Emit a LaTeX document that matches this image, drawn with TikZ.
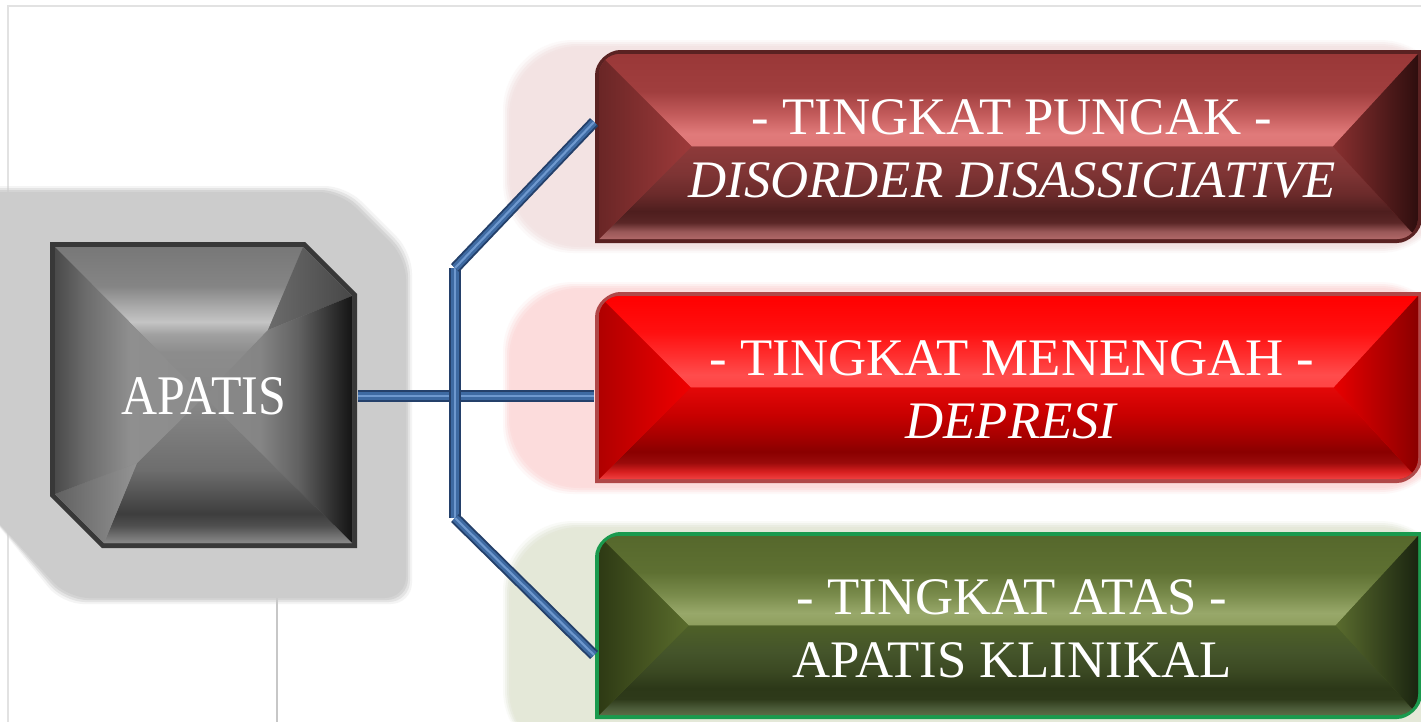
\documentclass[tikz,border=0pt]{standalone}
\usepackage{fontspec}
\setmainfont{Liberation Serif}
\usetikzlibrary{calc}

% ---------- colours ----------
\definecolor{frameLine}{HTML}{E2E2E2}
\definecolor{shadowGray}{HTML}{CCCCCC}
\definecolor{glowP}{HTML}{F3E3E3}
\definecolor{glowM}{HTML}{FCDCDC}
\definecolor{glowG}{HTML}{E4E8D8}
\definecolor{tubeEdge}{HTML}{24406A}
\definecolor{tubeMid}{HTML}{3E6AA2}
\definecolor{tubeHi}{HTML}{6E98CE}
\definecolor{aEdge}{HTML}{383838}

% dark red box
\definecolor{pEdge}{HTML}{5A2222}
\definecolor{pT25}{HTML}{DE7676}\definecolor{pT32}{HTML}{E07A7A}\definecolor{pT42}{HTML}{C45C5C}
\definecolor{pT55}{HTML}{A03E3E}\definecolor{pT75}{HTML}{9A3838}
\definecolor{pB25}{HTML}{B06868}\definecolor{pB29}{HTML}{9A5858}\definecolor{pB34}{HTML}{5A2626}
\definecolor{pB40}{HTML}{4E1E1E}\definecolor{pB49}{HTML}{6A2A2A}\definecolor{pB60}{HTML}{7E3434}
\definecolor{pB75}{HTML}{8E3A3A}
\definecolor{pL1}{HTML}{6A2626}\definecolor{pL2}{HTML}{9E3A3A}
\definecolor{pR1}{HTML}{8A3030}\definecolor{pR2}{HTML}{2E0E0E}

% bright red box
\definecolor{mEdge}{HTML}{B04848}
\definecolor{mT25}{HTML}{FF4444}\definecolor{mT32}{HTML}{FF4C4C}\definecolor{mT42}{HTML}{FF3030}
\definecolor{mT55}{HTML}{FF1010}\definecolor{mT75}{HTML}{FF0000}
\definecolor{mB25}{HTML}{F04040}\definecolor{mB29}{HTML}{D82020}\definecolor{mB34}{HTML}{9A0A0A}
\definecolor{mB40}{HTML}{8A0000}\definecolor{mB49}{HTML}{A80000}\definecolor{mB60}{HTML}{C80000}
\definecolor{mB75}{HTML}{E40808}
\definecolor{mL1}{HTML}{B00000}\definecolor{mL2}{HTML}{F00000}
\definecolor{mR1}{HTML}{E80000}\definecolor{mR2}{HTML}{8A0000}

% olive box
\definecolor{gEdge}{HTML}{1A9A4E}
\definecolor{gT25}{HTML}{8E9E5E}\definecolor{gT32}{HTML}{98A86A}\definecolor{gT42}{HTML}{7A8C4C}
\definecolor{gT55}{HTML}{5E7032}\definecolor{gT75}{HTML}{56682C}
\definecolor{gB25}{HTML}{5C6C46}\definecolor{gB29}{HTML}{4A5A38}\definecolor{gB34}{HTML}{2E3A1A}
\definecolor{gB40}{HTML}{2C3818}\definecolor{gB49}{HTML}{3A4822}\definecolor{gB60}{HTML}{44542A}
\definecolor{gB75}{HTML}{4E6028}
\definecolor{gL1}{HTML}{2E3A14}\definecolor{gL2}{HTML}{5A6C2C}
\definecolor{gR1}{HTML}{5A6C2E}\definecolor{gR2}{HTML}{1A2410}

% ---------- shadings ----------
\newcommand\mkshades[1]{%
  \pgfdeclareverticalshading{#1Top}{100bp}{color(0bp)=(#1T25); color(25bp)=(#1T25);
    color(32bp)=(#1T32); color(42bp)=(#1T42); color(55bp)=(#1T55); color(75bp)=(#1T75);
    color(100bp)=(#1T75)}%
  \pgfdeclareverticalshading{#1Bot}{100bp}{color(0bp)=(#1B25); color(25bp)=(#1B25);
    color(29bp)=(#1B29); color(34bp)=(#1B34); color(40bp)=(#1B40); color(49bp)=(#1B49);
    color(60bp)=(#1B60); color(75bp)=(#1B75); color(100bp)=(#1B75)}}
\mkshades{p}\mkshades{m}\mkshades{g}

\pgfdeclareverticalshading{aTop}{100bp}{color(0bp)=(black!47); color(25bp)=(black!47);
  color(40bp)=(black!45); color(46bp)=(black!37); color(50bp)=(black!23); color(54bp)=(black!31);
  color(62bp)=(black!48); color(75bp)=(black!53); color(100bp)=(black!53)}
\pgfdeclareverticalshading{aBot}{100bp}{color(0bp)=(black!46); color(25bp)=(black!46);
  color(31bp)=(black!69); color(35bp)=(black!76); color(50bp)=(black!57); color(75bp)=(black!46);
  color(100bp)=(black!46)}
\pgfdeclarehorizontalshading{aRight}{100bp}{color(0bp)=(black!46); color(25bp)=(black!46);
  color(44bp)=(black!48); color(57bp)=(black!62); color(70bp)=(black!84); color(75bp)=(black!92);
  color(100bp)=(black!92)}
\pgfdeclarehorizontalshading{aLeft}{100bp}{color(0bp)=(black!71); color(25bp)=(black!71);
  color(35bp)=(black!58); color(50bp)=(black!44); color(75bp)=(black!45); color(100bp)=(black!45)}

% beveled glossy box: #1 top edge, #2 bottom edge, #3 palette prefix
\newcommand\glossbox[3]{%
  \pgfmathsetmacro\gya{#1+4}%
  \pgfmathsetmacro\gyb{#2-4}%
  \pgfmathsetmacro\gym{(#1+#2)/2}%
  \pgfmathsetmacro\gax{599+\gym-\gya}%
  \pgfmathsetmacro\gbx{1418-0.92*(\gym-\gya)}%
  \fill[#3Edge] (595,#2) -- (595,#1+25) .. controls (595,#1+11.2) and (608.8,#1) .. (620,#1)
    -- (1422,#1) -- (1422,#2-25) .. controls (1422,#2-11.2) and (1408.2,#2) .. (1397,#2) -- cycle;
  \begin{scope}
    \clip (599,\gyb) -- (599,\gya+21) .. controls (599,\gya+9.4) and (608.4,\gya) .. (620,\gya)
      -- (1418,\gya) -- (1418,\gyb-21) .. controls (1418,\gyb-9.4) and (1408.6,\gyb) .. (1397,\gyb) -- cycle;
    \fill[#3B75] (590,\gya) rectangle (1430,\gyb);
    \shade[shading=#3Top] (599,\gya) -- (1418,\gya) -- (\gbx,\gym) -- (\gax,\gym) -- cycle;
    \shade[shading=#3Bot] (\gax,\gym) -- (\gbx,\gym) -- (1418,\gyb) -- (599,\gyb) -- cycle;
    \shade[left color=#3L1, right color=#3L2] (599,\gya) -- (\gax,\gym) -- (599,\gyb) -- cycle;
    \shade[left color=#3R1, right color=#3R2] (1418,\gya) -- (\gbx,\gym) -- (1418,\gyb) -- cycle;
  \end{scope}}

% a three-layer pipe along a path
\newcommand\tube[1]{\draw[tubeA] #1; \draw[tubeB] #1; \draw[tubeC] #1;}

\begin{document}
\begin{tikzpicture}[x=0.01cm, y=-0.01cm,
  txt/.style={text=white, align=center, inner sep=0pt, font={\fontsize{15}{18}\selectfont}},
  tubeA/.style={draw=tubeEdge, line width=3.2pt},
  tubeB/.style={draw=tubeMid, line width=2.1pt},
  tubeC/.style={draw=tubeHi, line width=0.6pt},
  glow/.style={rounded corners=20}]
\useasboundingbox (0,0) rectangle (1421,721);
\fill[white] (0,0) rectangle (1421,721);

% thin guide lines
\draw[frameLine, line width=0.6pt] (8,730) -- (8,6) -- (1430,6);
\draw[black!40, line width=0.5pt] (0,302) -- (50,302);
\draw[black!22, line width=0.6pt] (277,548) -- (277,730);

% soft glows behind the three boxes
\foreach \i/\o in {0/0.2, 2/0.35, 4/0.55, 6/0.8, 8/1} {
  \fill[glowP, opacity=\o, glow] (503+\i,40+\i) rectangle (1450,253-\i);
  \fill[glowM, opacity=\o, glow] (503+\i,282+\i) rectangle (1450,494-\i);
  \fill[glowG, opacity=\o, glow] (503+\i,521+\i) rectangle (1450,760);
}

% drop shadow of the source block
\foreach \i/\o in {0/0.2, 2/0.4, 4/0.65, 6/1} {
  \fill[shadowGray, opacity=\o, rounded corners=6]
    (-20,186+\i) -- (346-\i,186+\i) -- (412-\i,252+\i) -- (412-\i,604-\i) -- (62+\i,604-\i) -- (-20,503) -- cycle;
}

% source block
\fill[aEdge] (50,242) -- (305,242) -- (357,294) -- (357,548) -- (102,548) -- (50,496) -- cycle;
\coordinate (C) at (204,397);
\coordinate (P1) at (268,330);
\coordinate (P2) at (137,463);
\fill[black!47] (55,247) -- (303,247) -- (352,296) -- (352,543) -- (104,543) -- (55,494) -- cycle;
\shade[shading=aTop] (55,247) -- (303,247) -- (P1) -- (C) -- cycle;
\shade[left color=black!58, right color=black!72] (303,247) -- (352,296) -- (P1) -- cycle;
\shade[shading=aRight] (352,296) -- (352,543) -- (C) -- (P1) -- cycle;
\shade[shading=aBot] (352,543) -- (104,543) -- (P2) -- (C) -- cycle;
\shade[left color=black!62, right color=black!42] (104,543) -- (55,494) -- (P2) -- cycle;
\shade[shading=aLeft] (55,494) -- (55,247) -- (C) -- (P2) -- cycle;

% three level boxes
\glossbox{50}{243}{p}
\glossbox{292}{483}{m}
\glossbox{532}{719}{g}

% labels
\node[txt, minimum width=3.07cm, minimum height=3.06cm, font={\fontsize{14.2}{17}\selectfont}]
  (apatis) at (204,396) {\scalebox{1}[1.12]{APATIS}};
\node[txt, minimum width=8.34cm, minimum height=1.98cm] (puncak) at (1012,149)
  {- TINGKAT PUNCAK -\\\textit{DISORDER DISASSICIATIVE}};
\node[txt, minimum width=8.34cm, minimum height=1.9cm] (menengah) at (1012,390)
  {- TINGKAT MENENGAH -\\\textit{DEPRESI}};
\node[txt, minimum width=8.34cm, minimum height=1.9cm] (atas) at (1012,629)
  {- TINGKAT ATAS -\\APATIS KLINIKAL};

% pipes
\coordinate (jt) at (455,268);
\coordinate (jb) at (455,518);
\tube{(apatis.east) -- (apatis.east -| menengah.west)}
\tube{(jt) -- (jb)}
\tube{(jt) -- ($(puncak.west)+(0,-27)$)}
\tube{(jb) -- ($(atas.west)+(0,26)$)}
\end{tikzpicture}
\end{document}
